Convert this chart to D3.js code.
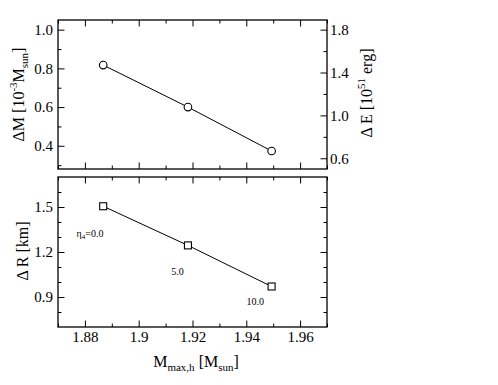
<!DOCTYPE html>
<html><head><meta charset="utf-8">
<script src="https://cdn.jsdelivr.net/npm/d3@7"></script>
<style>
html,body{margin:0;padding:0;background:#fff;}
svg{display:block;}
svg text{font-family:"Liberation Serif",serif !important;fill:#000;}
</style></head>
<body>
<script>
// ---- data ----
const xMajorTicks = [1.88, 1.90, 1.92, 1.94, 1.96];
const xMinorTicks = [1.87, 1.89, 1.91, 1.93, 1.95, 1.97];
const massMax = [1.8868, 1.9183, 1.9494];          // M_max,h [M_sun]
const deltaM = [0.817, 0.600, 0.373];              // ΔM [1e-3 M_sun]
const deltaR = [1.505, 1.244, 0.970];              // ΔR [km]
const dMTicks = [0.4, 0.6, 0.8, 1.0];
const dMMinor = [0.3, 0.5, 0.7, 0.9];
const dETicks = [0.6, 1.0, 1.4, 1.8];
const dEMinor = [0.8, 1.2, 1.6];
const dRTicks = [0.9, 1.2, 1.5];
const dRMinor = [0.8, 1.0, 1.1, 1.3, 1.4, 1.6];
const etaLabels = ["0.0", "5.0", "10.0"];
const etaLabelX = [1.8769, 1.9121, 1.9401];
const etaLabelY = [1.30, 1.047, 0.847];

// ---- layout ----
const W = 498, H = 385;
const L = 58, R = 327;
const topP = {t: 20, b: 169};
const botP = {t: 177, b: 327};

const svg = d3.select("body").append("svg").attr("width", W).attr("height", H)
  .attr("font-family", "Liberation Serif");

const x = d3.scaleLinear().domain([1.87, 1.97]).range([L, R]);
const yM = d3.scaleLinear().domain([0.28, 1.05]).range([topP.b, topP.t]);
const yE = d3.scaleLinear().domain([0.5, 1.89]).range([topP.b, topP.t]);
const yR = d3.scaleLinear().domain([0.7, 1.7]).range([botP.b, botP.t]);

const MAJ = 6.5, MIN = 3.5;
const fmt1 = d3.format(".1f");
const fmtX = d3.format("~g");

function styleAxis(g){
  g.attr("font-family", "Liberation Serif");
  g.select(".domain").remove();
  g.selectAll(".tick line").attr("stroke", "#000").attr("stroke-width", 1);
  g.selectAll(".tick text").attr("font-size", 15).style("font-family", "Liberation Serif, serif");
}

function addAxis(axis, tx, ty){
  const g = svg.append("g").attr("transform", `translate(${tx},${ty})`).call(axis);
  styleAxis(g);
  return g;
}

function panelFrame(p){
  svg.append("rect").attr("x", L).attr("y", p.t).attr("width", R - L).attr("height", p.b - p.t)
    .attr("fill", "none").attr("stroke", "#000").attr("stroke-width", 1.3);
}

// ---- top panel axes ----
addAxis(d3.axisTop(x).tickValues(xMajorTicks).tickSize(-MAJ).tickFormat(""), 0, topP.t);
addAxis(d3.axisTop(x).tickValues(xMinorTicks).tickSize(-MIN).tickFormat(""), 0, topP.t);
addAxis(d3.axisBottom(x).tickValues(xMajorTicks).tickSize(-MAJ).tickFormat(""), 0, topP.b);
addAxis(d3.axisBottom(x).tickValues(xMinorTicks).tickSize(-MIN).tickFormat(""), 0, topP.b);
addAxis(d3.axisLeft(yM).tickValues(dMTicks).tickSize(-MAJ).tickPadding(5).tickFormat(fmt1), L, 0);
addAxis(d3.axisLeft(yM).tickValues(dMMinor).tickSize(-MIN).tickFormat(""), L, 0);
addAxis(d3.axisRight(yE).tickValues(dETicks).tickSize(-MAJ).tickPadding(3).tickFormat(fmt1), R, 0);
addAxis(d3.axisRight(yE).tickValues(dEMinor).tickSize(-MIN).tickFormat(""), R, 0);

// ---- bottom panel axes ----
addAxis(d3.axisTop(x).tickValues(xMajorTicks).tickSize(-MAJ).tickFormat(""), 0, botP.t);
addAxis(d3.axisTop(x).tickValues(xMinorTicks).tickSize(-MIN).tickFormat(""), 0, botP.t);
addAxis(d3.axisBottom(x).tickValues(xMajorTicks).tickSize(-MAJ).tickPadding(4.5).tickFormat(fmtX), 0, botP.b);
addAxis(d3.axisBottom(x).tickValues(xMinorTicks).tickSize(-MIN).tickFormat(""), 0, botP.b);
addAxis(d3.axisLeft(yR).tickValues(dRTicks).tickSize(-MAJ).tickPadding(5).tickFormat(fmt1), L, 0);
addAxis(d3.axisLeft(yR).tickValues(dRMinor).tickSize(-MIN).tickFormat(""), L, 0);
addAxis(d3.axisRight(yR).tickValues(dRTicks).tickSize(-MAJ).tickFormat(""), R, 0);
addAxis(d3.axisRight(yR).tickValues(dRMinor).tickSize(-MIN).tickFormat(""), R, 0);

panelFrame(topP);
panelFrame(botP);

// ---- data lines and markers ----
const topData = massMax.map((m, i) => ({x: m, y: deltaM[i]}));
const botData = massMax.map((m, i) => ({x: m, y: deltaR[i]}));

svg.append("path").datum(topData)
  .attr("d", d3.line().x(d => x(d.x)).y(d => yM(d.y)))
  .attr("fill", "none").attr("stroke", "#000").attr("stroke-width", 1);
svg.selectAll("circle.pt").data(topData).enter().append("circle")
  .attr("cx", d => x(d.x)).attr("cy", d => yM(d.y)).attr("r", 3.8)
  .attr("fill", "#fff").attr("stroke", "#000").attr("stroke-width", 1.1);

svg.append("path").datum(botData)
  .attr("d", d3.line().x(d => x(d.x)).y(d => yR(d.y)))
  .attr("fill", "none").attr("stroke", "#000").attr("stroke-width", 1);
const S = 7;
svg.selectAll("rect.pt").data(botData).enter().append("rect")
  .attr("x", d => x(d.x) - S/2).attr("y", d => yR(d.y) - S/2).attr("width", S).attr("height", S)
  .attr("fill", "#fff").attr("stroke", "#000").attr("stroke-width", 1.1);

// ---- eta annotations ----
etaLabels.forEach((lab, i) => {
  const t = svg.append("text").attr("x", x(etaLabelX[i])).attr("y", yR(etaLabelY[i])).attr("font-size", 10);
  if (i === 0) {
    t.append("tspan").text("η");
    t.append("tspan").attr("font-size", 7).attr("dy", 2).text("4");
    t.append("tspan").attr("dy", -2).text("=" + lab);
  } else {
    t.text(lab);
  }
});

// ---- axis titles ----
function titleTopLeft(){
  const t = svg.append("text").attr("transform", `translate(24,94.5) rotate(-90)`)
    .attr("text-anchor", "middle").attr("font-size", 16);
  t.append("tspan").text("ΔM [10");
  t.append("tspan").attr("font-size", 11).attr("dy", -7).text("-3");
  t.append("tspan").attr("dy", 7).text("M");
  t.append("tspan").attr("font-size", 11).attr("dy", 4).text("sun");
  t.append("tspan").attr("dy", -4).text("]");
}
function titleTopRight(){
  const t = svg.append("text").attr("transform", `translate(372,93) rotate(-90)`)
    .attr("text-anchor", "middle").attr("font-size", 16);
  t.append("tspan").text("Δ E [10");
  t.append("tspan").attr("font-size", 11).attr("dy", -7).text("51");
  t.append("tspan").attr("dy", 7).text(" erg]");
}
function titleBotLeft(){
  svg.append("text").attr("transform", `translate(28,251) rotate(-90)`)
    .attr("text-anchor", "middle").attr("font-size", 16).text("Δ R [km]");
}
function titleBottom(){
  const t = svg.append("text").attr("x", 196).attr("y", 366.5)
    .attr("text-anchor", "middle").attr("font-size", 16);
  t.append("tspan").text("M");
  t.append("tspan").attr("font-size", 11).attr("dy", 4).text("max,h");
  t.append("tspan").attr("dy", -4).text(" [M");
  t.append("tspan").attr("font-size", 11).attr("dy", 4).text("sun");
  t.append("tspan").attr("dy", -4).text("]");
}
titleTopLeft(); titleTopRight(); titleBotLeft(); titleBottom();
</script>
</body></html>
